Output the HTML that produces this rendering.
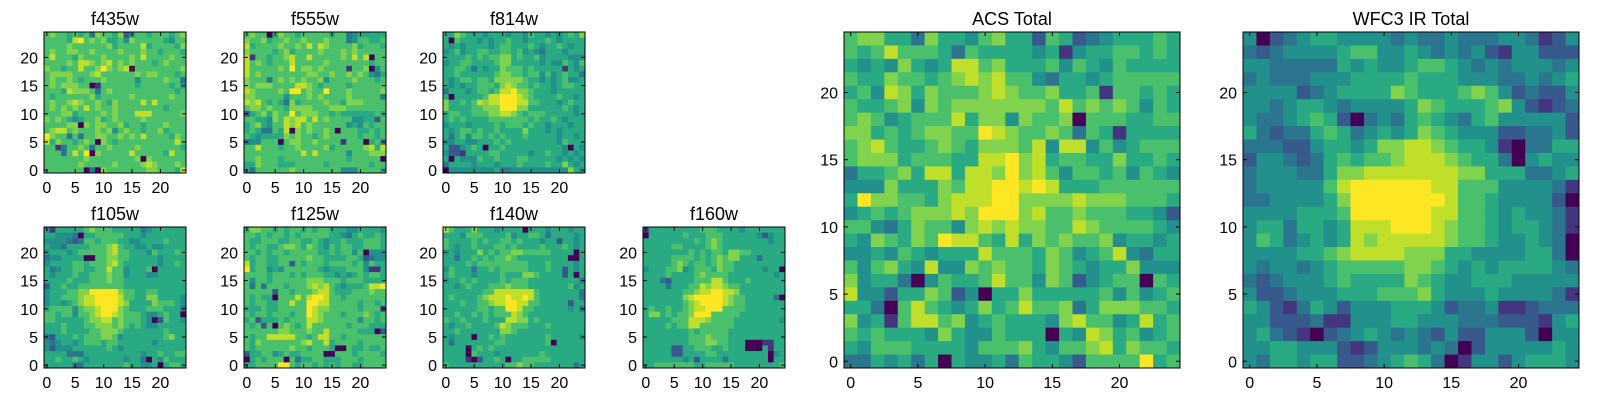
<!DOCTYPE html>
<html><head><meta charset="utf-8"><style>
body{margin:0;background:#fff;}
svg{display:block;font-family:"Liberation Sans",sans-serif;}
</style></head><body>
<svg id="fig" width="1600" height="400" viewBox="0 0 1600 400"></svg>
<script>
const panelNames = ["f435w","f555w","f814w","f105w","f125w","f140w","f160w","ACS Total","WFC3 IR Total"];
const tickValues = [0,5,10,15,20];
const bigTickValues = [0,5,10,15,20];
const f435w = ["6766565637665724665666567","6666589676755647666665466","6666766666675666685666657","6766776676666766676656665","6866657666766667686666766","6666768876786767666567666","7665668667976780666666667","6777766678666666767766656","6766765666766666466667663","6767776601666666566666564","6665877763676666666666656","6566666675666667666666766","6766787667657666686866666","6767676867667666666665666","6667756666767666888666667","7676545667567666676666666","6666770767766756656667666","6788676667674676656675666","9766363667766767686666576","8576656760765666666666686","6613667636676666766666665","6663686907666668666665866","6666666766666666707666666","6666667666667666678766676","6666666030766666667766658"];
const f555w = ["6766057665666665663455555","7667566766766676663466556","8566667667686876666756665","7666656756666766676766666","8166566786686666676868066","8676566686666676666666566","8666667696776766661667046","8676666666677667667676435","7666367676766746666766656","7677766668876566665666666","8766667699676696667666667","7766666466676766667666663","8786565375666676657776666","6776766577776667776666666","2567576696777665655555565","6655476878868676666445526","5675466878676666664546566","5653365807676676066655656","6545555767665676666656656","3446660677667666616660563","6686665667666675666667858","6666666666868666664666777","6676665666666666665666660","5576665556666656666666566","5366666676666666644466665"];
const f814w = ["5576555455545546554545657","5065554545565545556545555","5454555545665556545565455","4564556655665645435554555","5555656566775655645555444","4556655556775555545446546","5566535455766656555551545","5565555556776656646456553","5456656657777765545456445","5454556665787665655456655","3555456656889776555455555","5055555688999876555565545","7556568788999886655545655","7555566777999775555556545","5665566677887656665555545","5656555566666665655654555","4555455556566656554555455","5456656556555575554545555","5356466565655565555545545","4455445556565555555546555","5224565055655555555554054","4221555566555554556554545","5054446556555665555545454","3555545554555655556557545","0444444445334444444444754"];
const f105w = ["4155555676665555534555555","5544430556666655545555555","4444323665666554455556555","5443555566678655445445555","4555456666678665554655565","3445555006677665555545555","4555566566678655555545565","5345566556686645556055555","5455565566676645554455555","5555655566676655555555555","2556556666666655555555555","4555667799999766556655555","4556667889999866557755554","4554567889999875555766654","5666646778999765556665553","6656646678998766654456550","6655555677886766654026554","5556555667776765654455555","5556555566777655555556555","3255565666776455555556755","4345545666566555555455555","4244455555565455555555555","5555333555555555545565566","5565565455555545530546555","5555533555555565544505665"];
const f125w = ["5776656566565665554455554","6656566565666665543565565","6556665566556545565556665","6566556776576546566556665","6656566566666556566460444","6566556666676655556652344","8566556626566656666564655","9566454666666545556664115","6666566656566655454565665","6466566666677766656665555","6363666566678786545556889","6666626656667886555666766","6565506668689986656666666","6566556686699886666656656","5556556666698776666656661","6566566656698766656667656","5625556566688766666646656","6562606765686666665666555","6666667766676686666655502","6566888886656886656666666","6576666666786685666656666","6566666676656665006556556","2556645655666600666566665","0565666063556655566656666","5566669965665656566556666"];
const f140w = ["8655575554555505554555455","5554666555564556653555545","6555565655665655545525545","6545565556656555565556545","4545557565667766666555505","5535565656676555555555005","5555656666666665556555545","4655535565666665556552545","5655545555655577655552505","4556565555656665555555553","5545655566676665555555645","5555555668888888655555553","5655556788898898655555553","5556556678899886655555255","5555556656699866555555453","5565565656668765555555555","6556555655588775655555555","5455655556876665556555555","5565555555776555555555555","5455505565655555556555554","5355555556655555556055555","5555056565555555555555555","5555065554555555565555555","5555102556505566666555555","6555555555566766555555535"];
const f160w = ["1555555555666555545555555","0555555655566655555542455","5555555556567655555555455","5555566555567655555555555","5555555565656657766555555","5555566665656767755535555","5555567656656766555555555","4555667456665766555554550","5555655556766665555555545","5553255556668865556555555","5555355566878876655555555","5555555667889988755555555","5555555789999987665555530","5555555678999987665555555","5655655678899966665555555","5775656679996666655555555","5555566688876666555555554","5555656688666666555555555","5555555565666665555555555","5555555566676665555555555","5555555566677665550001155","5555522556665565550005155","5555522555566555555555045","5555555452555535555555055","5566666665566666555555556"];
const acsTotal = ["6775537554675526523455565","6568666536555545145566565","5454754588675556465465555","6557665678786643554566666","5648757666787667556166565","6556747677777776867676465","6764566685774766706665566","7756567766987667636515555","6786556765777684884645666","6777566655889785665575565","3556758858879786466564654","4447555768899898555666666","5977665788899777787776665","4565677787999786676665542","6643576647878776687666654","5476576988658576766745545","4454654555866657645684355","6467548447676657654557444","7455304655686647624566065","8442557624055755555646456","5530686545756866735777665","7451688674565554786645856","6565554754465550548756456","5466655554666754667857665","3354535054453655426666956"];
const wfc3Total = ["4023455444434334333443124","3234444566445434342144222","4433333545445665434344434","3433344455556555444334345","4444234555576555676423224","4434554344445765556742123","4334565203435654356444442","5323356534545765444223342","3332245545778876554103355","2443235656678887655304544","3444335778888888775553345","3444446899999988666444431","3344445799999998665444420","4444555699999988665454431","4553554588899987665455431","4653454587888887665445430","4444556788887775544445530","4344345666667765454555543","3234445655557654455544444","4223444555666754445444431","5421354244455542334112333","4422231144455444333222145","4532102345434324224442044","4455444212444343024444454","4355455223456530144245554"];
const panelData = [f435w,f555w,f814w,f105w,f125w,f140w,f160w,acsTotal,wfc3Total];
const vmax = 9;

const panels = [
 {x:44,y:32,w:142,h:141,big:false},{x:244,y:32,w:142,h:141,big:false},{x:443,y:32,w:142,h:141,big:false},
 {x:44,y:227,w:142,h:141,big:false},{x:244,y:227,w:142,h:141,big:false},{x:443,y:227,w:142,h:141,big:false},{x:643,y:227,w:142,h:141,big:false},
 {x:844,y:32,w:336,h:336,big:true},{x:1243,y:32,w:336,h:336,big:true}
];
const vir=[[68,1,84],[72,40,120],[62,73,137],[49,104,142],[38,130,142],[31,158,137],[53,183,121],[110,206,88],[181,222,43],[253,231,37]];
function cmap(t){t=Math.pow(Math.max(0,Math.min(1,t)),0.85)*9;const i=Math.min(8,Math.floor(t)),f=t-i;const a=vir[i],b=vir[i+1];
 return `rgb(${Math.round(a[0]+(b[0]-a[0])*f)},${Math.round(a[1]+(b[1]-a[1])*f)},${Math.round(a[2]+(b[2]-a[2])*f)})`;}
const NS="http://www.w3.org/2000/svg";
const svg=document.getElementById('fig');
function mk(tag,attrs,parent){const e=document.createElementNS(NS,tag);for(const k in attrs)e.setAttribute(k,attrs[k]);(parent||svg).appendChild(e);return e;}

panelNames.forEach((name,pi)=>{
 const p=panels[pi];const data=panelData[pi];
 const g=mk('g',{});
 
 
 const n=data.length;
 const sx=v=>p.x+(v+0.5)/n*p.w;
 const sy=v=>p.y+p.h-(v+0.5)/n*p.h;
 const cw=p.w/n,ch=p.h/n;
 for(let r=0;r<n;r++){const row=data[r];const yv=n-1-r;
  for(let c=0;c<row.length;c++){
   const cell=mk('rect',{x:(sx(c)-cw/2).toFixed(2),y:(sy(yv)-ch/2).toFixed(2),width:(cw+0.4).toFixed(2),height:(ch+0.4).toFixed(2),fill:cmap(+row[c]/vmax)},g);
   
   
  }}
 const fr=mk('rect',{x:p.x,y:p.y,width:p.w,height:p.h,fill:'none',stroke:'#000','stroke-width':1},g);
 
 
 const ticks=p.big?bigTickValues:tickValues;
 const tl=4;
 ticks.forEach(t=>{
  const x=sx(t),y=sy(t);
  mk('line',{x1:x,y1:p.y+p.h,x2:x,y2:p.y+p.h-tl,stroke:'#000'},g);
  mk('line',{x1:x,y1:p.y,x2:x,y2:p.y+tl,stroke:'#000'},g);
  mk('line',{x1:p.x,y1:y,x2:p.x+tl,y2:y,stroke:'#000'},g);
  mk('line',{x1:p.x+p.w,y1:y,x2:p.x+p.w-tl,y2:y,stroke:'#000'},g);
  const xl=mk('text',{x:x,y:p.y+p.h+20,'font-size':16,'text-anchor':'middle'},g);xl.textContent=t;
  
  
  const yl=mk('text',{x:p.x-6,y:y+6,'font-size':16,'text-anchor':'end'},g);yl.textContent=t;
  
  
 });
 const ti=mk('text',{x:p.x+p.w/2,y:p.y-7,'font-size':18,'text-anchor':'middle'},g);ti.textContent=name;
 
 
});
</script>
</body></html>
